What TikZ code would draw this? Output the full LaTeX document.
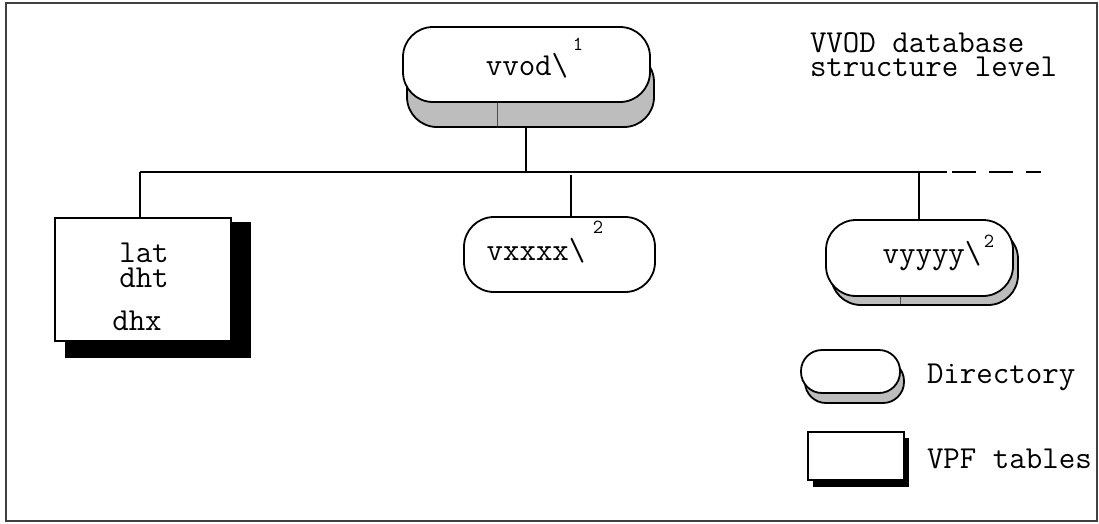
\documentclass[tikz,border=0pt]{standalone}
\begin{document}
\begin{tikzpicture}[x=1pt,y=-1pt,
  every node/.style={inner sep=0pt, outer sep=0pt},
  txt/.style={font=\fontsize{32}{32}\selectfont\ttfamily, anchor=base},
  supr/.style={font=\fontsize{20}{20}\selectfont\ttfamily, anchor=base},
  dirbox/.style={draw, line width=1.8pt, fill=white, rectangle, rounded corners=#1},
  dirbox/.default=28pt,
  dirshadow/.style={draw, line width=1.8pt, rectangle, rounded corners=#1, fill=gray!52},
  dirshadow/.default=28pt,
  tblbox/.style={draw, line width=1.8pt, fill=white, rectangle},
  conn/.style={line width=1.6pt},
  seam/.style={line width=0.5pt, black!70}]
\useasboundingbox (0,0) rectangle (1099,523);
\draw[line width=1.5pt, black!75] (6,3) rectangle (1097,521);

% vvod directory
\node[dirshadow=30pt, minimum width=247pt, minimum height=75pt] (vvodsh) at (530.5,89.5) {};
\draw[seam] (497,100) -- (497,126);
\node[dirbox=30pt, minimum width=247pt, minimum height=75pt] (vvod) at (526.5,64.5) {};
\node[txt] (vvodt) at (527,75) {vvod\textbackslash};
\node[supr] (vvods) at (578,50) {1};

% VVOD label
\node[txt, anchor=base west] (lab1) at (810,52) {VVOD database};
\node[txt, anchor=base west] (lab2) at (810,76) {structure level};

% tree
\coordinate (j0) at (526,172);
\coordinate (jl) at (140,172);
\coordinate (jr) at (919,172);
\coordinate (je) at (947,172);
\coordinate (jd) at (1041,172);
\coordinate (m0) at (571,175);
\draw[conn] (vvodsh.south -| j0) -- (j0);
\draw[conn] (jl) -- (je);
\draw[conn, dash pattern=on 24pt off 13pt] (je) ++(5,0) -- (jd);

% lat/dht/dhx tables
\fill (65,222) rectangle (251,358);
\node[tblbox, minimum width=176pt, minimum height=123pt] (tables) at (143,279.5) {};
\draw[conn] (jl) -- (tables.north -| jl);
\node[txt] (t1) at (144,262) {lat};
\node[txt] (t2) at (144,287) {dht};
\node[txt] (t3) at (137,330) {dhx};

% vxxxx
\node[dirbox=30pt, minimum width=191pt, minimum height=75pt] (vx) at (559.5,254.5) {};
\draw[conn] (m0) -- (m0 |- vx.north);
\node[txt] (vxt) at (536,260) {vxxxx\textbackslash};
\node[supr] (vxs) at (598,233) {2};

% vyyyy
\node[dirshadow=30pt, minimum width=187pt, minimum height=76pt] (vysh) at (924.5,267) {};
\draw[seam] (900,296) -- (900,304);
\node[dirbox=30pt, minimum width=187pt, minimum height=76pt] (vy) at (919.5,258) {};
\draw[conn] (jr) -- (vy.north -| jr);
\node[txt] (vyt) at (932,263) {vyyyy\textbackslash};
\node[supr] (vys) at (989,247) {2};

% legend
\node[dirshadow=21pt, minimum width=99pt, minimum height=43pt] (ldsh) at (854.5,381.5) {};
\node[dirbox=21pt, minimum width=99pt, minimum height=43pt] (ld) at (850.5,371.5) {};
\node[txt, anchor=base west] (ldt) at (927,383) {Directory};
\fill (813,438) rectangle (909,487);
\node[tblbox, minimum width=96pt, minimum height=48pt] (lt) at (856,456) {};
\node[txt, anchor=base west] (ltt) at (927,468) {VPF tables};
\end{tikzpicture}
\end{document}
